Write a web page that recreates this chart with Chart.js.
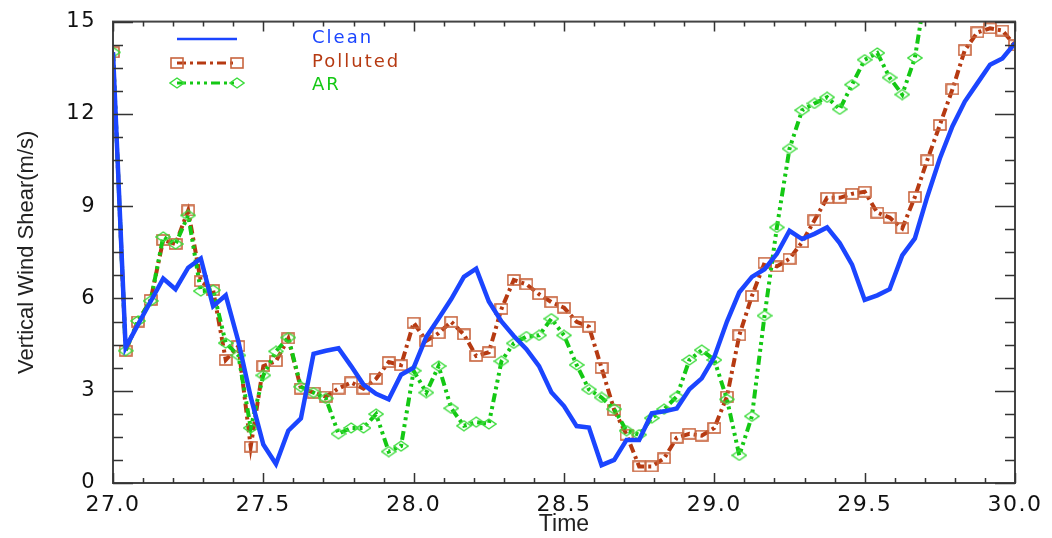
<!DOCTYPE html>
<html>
<head>
<meta charset="utf-8">
<script src="https://cdn.jsdelivr.net/npm/chart.js@4.4.1/dist/chart.umd.min.js"></script>
<style>
  html, body { margin: 0; padding: 0; background: #ffffff; }
  #wrap { width: 1052px; height: 538px; }
</style>
</head>
<body>
<div id="wrap"><canvas id="c" width="1052" height="538"></canvas></div>
<script>
// ---- data ----
const times = [
  27.000, 27.042, 27.083, 27.125, 27.167, 27.208, 27.250, 27.292, 27.333, 27.375, 27.417, 27.458,
  27.500, 27.542, 27.583, 27.625, 27.667, 27.708, 27.750, 27.792, 27.833, 27.875, 27.917, 27.958,
  28.000, 28.042, 28.083, 28.125, 28.167, 28.208, 28.250, 28.292, 28.333, 28.375, 28.417, 28.458,
  28.500, 28.542, 28.583, 28.625, 28.667, 28.708, 28.750, 28.792, 28.833, 28.875, 28.917, 28.958,
  29.000, 29.042, 29.083, 29.125, 29.167, 29.208, 29.250, 29.292, 29.333, 29.375, 29.417, 29.458,
  29.500, 29.542, 29.583, 29.625, 29.667, 29.708, 29.750, 29.792, 29.833, 29.875, 29.917, 29.958,
  30.000
];
const clean = [
  14.0, 4.4, 5.15, 5.9, 6.65, 6.3, 7.0, 7.3, 5.75, 6.1, 4.6, 2.8,
  1.25, 0.62, 1.7, 2.1, 4.2, 4.3, 4.38, 3.8, 3.2, 2.9, 2.72, 3.52,
  3.75, 4.75, 5.35, 5.98, 6.7, 6.97, 5.9, 5.25, 4.78, 4.35, 3.8, 2.95,
  2.5, 1.85, 1.8, 0.58, 0.75, 1.4, 1.4, 2.27, 2.33, 2.42, 3.05, 3.4,
  4.1, 5.25, 6.2, 6.7, 6.95, 7.45, 8.2, 7.93, 8.1, 8.31, 7.8, 7.1,
  5.95, 6.1, 6.3, 7.4, 7.95, 9.3, 10.55, 11.6, 12.4, 13.0, 13.6, 13.8,
  14.3
];
const polluted = [
  14.0, 4.3, 5.25, 5.95, 7.9, 7.77, 8.86, 6.56, 6.27, 4.0, 4.45, 1.18,
  3.8, 3.96, 4.7, 3.07, 2.94, 2.81, 3.07, 3.27, 3.07, 3.39, 3.93, 3.83,
  5.21, 4.62, 4.87, 5.24, 4.83, 4.13, 4.25, 5.66, 6.6, 6.46, 6.14, 5.88,
  5.7, 5.24, 5.08, 3.74, 2.37, 1.57, 0.54, 0.54, 0.8, 1.47, 1.6, 1.54,
  1.79, 2.81, 4.8, 6.08, 7.16, 7.04, 7.29, 7.83, 8.54, 9.27, 9.27, 9.4,
  9.47, 8.79, 8.63, 8.28, 9.3, 10.49, 11.64, 12.8, 14.07, 14.65, 14.78, 14.71,
  14.23
];
const ar = [
  14.0, 4.3, 5.27, 5.92, 8.0, 7.77, 8.7, 6.24, 6.27, 4.55, 4.15, 1.79,
  3.5, 4.28, 4.73, 3.13, 2.94, 2.75, 1.6, 1.79, 1.79, 2.24, 1.02, 1.2,
  3.65, 2.94, 3.8, 2.43, 1.86, 1.98, 1.92, 3.96, 4.54, 4.76, 4.8, 5.34,
  4.8, 3.84, 3.04, 2.78, 2.4, 1.7, 1.57, 2.11, 2.4, 2.81, 4.0, 4.32,
  4.0, 2.72, 0.9, 2.17, 5.44, 8.31, 10.87, 12.12, 12.34, 12.54, 12.15, 12.95,
  13.76, 13.98, 13.18, 12.63, 13.82, 16.3
];
const seriesNames = ['Clean', 'Polluted', 'AR'];
const xTickLabels = ['27.0', '27.5', '28.0', '28.5', '29.0', '29.5', '30.0'];
const yTickLabels = ['0', '3', '6', '9', '12', '15'];
const xTitle = 'Time';
const yTitle = 'Vertical Wind Shear(m/s)';

// ---- styles ----
const COL_CLEAN = '#1b45ff';
const COL_POLL = '#b63a12';
const COL_POLL_MK = '#c8643e';
const COL_AR = '#14c814';
const COL_AR_MK = '#3cdc3c';
const DASH_POLL = [9, 4, 3, 4];
const DASH_AR = [9, 4, 3, 4, 3, 4, 3, 4];

function makeSquare() {
  const c = document.createElement('canvas');
  c.width = 14; c.height = 12;
  const g = c.getContext('2d');
  g.strokeStyle = COL_POLL_MK; g.lineWidth = 1.6;
  g.strokeRect(1, 1, 12, 10);
  return c;
}
function makeDiamond() {
  const c = document.createElement('canvas');
  c.width = 16; c.height = 12;
  const g = c.getContext('2d');
  g.strokeStyle = COL_AR_MK; g.lineWidth = 1.4;
  g.beginPath();
  g.moveTo(8, 1); g.lineTo(15, 6); g.lineTo(8, 11); g.lineTo(1, 6); g.closePath();
  g.stroke();
  return c;
}
const squareImg = makeSquare();
const diamondImg = makeDiamond();

function pts(arr) { return arr.map((v, i) => ({ x: times[i], y: v })); }

const framePlugin = {
  id: 'frameTicks',
  beforeDraw(chart) { chart.ctx.letterSpacing = '0px'; },
  afterDatasetsDraw(chart) { chart.ctx.letterSpacing = '1.5px'; },
  afterDraw(chart) {
    const ctx = chart.ctx;
    const a = chart.chartArea;
    const xs = chart.scales.x, ys = chart.scales.y;
    ctx.save();
    ctx.letterSpacing = '0px';
    // frame
    ctx.strokeStyle = '#444';
    ctx.lineWidth = 2;
    ctx.strokeRect(a.left, a.top, a.right - a.left, a.bottom - a.top);
    // tick marks
    ctx.lineWidth = 1.5;
    ctx.strokeStyle = '#333';
    ctx.beginPath();
    for (let k = 0; k <= 30; k++) {
      const v = 27 + k * 0.1;
      const px = Math.round(xs.getPixelForValue(v)) + 0.5;
      const len = (k % 5 === 0) ? 10 : 5;
      ctx.moveTo(px, a.bottom); ctx.lineTo(px, a.bottom - len);
      ctx.moveTo(px, a.top); ctx.lineTo(px, a.top + len);
    }
    for (let k = 0; k <= 20; k++) {
      const v = k * 0.75;
      const py = Math.round(ys.getPixelForValue(v)) + 0.5;
      const len = (k % 4 === 0) ? 20 : 10;
      ctx.moveTo(a.left, py); ctx.lineTo(a.left + len, py);
      ctx.moveTo(a.right, py); ctx.lineTo(a.right - len, py);
    }
    ctx.stroke();

    // legend
    const lx1 = 177, lx2 = 237, tx = 312;
    const rows = [
      { y: 39, ty: 38, color: COL_CLEAN, dash: [], width: 2.5, img: null, name: seriesNames[0] },
      { y: 63, ty: 62, color: COL_POLL, dash: DASH_POLL, width: 3, img: squareImg, name: seriesNames[1] },
      { y: 83, ty: 85, color: COL_AR, dash: DASH_AR, width: 3, img: diamondImg, name: seriesNames[2] }
    ];
    rows.forEach(r => {
      ctx.save();
      ctx.strokeStyle = r.color;
      ctx.lineWidth = r.width;
      ctx.setLineDash(r.dash);
      ctx.beginPath();
      ctx.moveTo(lx1, r.y); ctx.lineTo(lx2, r.y);
      ctx.stroke();
      ctx.restore();
      if (r.img) {
        ctx.drawImage(r.img, lx1 - r.img.width / 2, r.y - r.img.height / 2);
        ctx.drawImage(r.img, lx2 - r.img.width / 2, r.y - r.img.height / 2);
      }
      ctx.letterSpacing = '2px';
      ctx.font = '18px "DejaVu Sans"';
      ctx.fillStyle = r.color;
      ctx.textAlign = 'left';
      ctx.textBaseline = 'middle';
      ctx.fillText(r.name, tx, r.ty);
    });
    ctx.restore();
    ctx.letterSpacing = '0px';
  }
};

new Chart(document.getElementById('c'), {
  type: 'line',
  data: {
    datasets: [
      {
        label: seriesNames[0], data: pts(clean), order: 0,
        borderColor: COL_CLEAN, borderWidth: 4.5, pointRadius: 0, tension: 0
      },
      {
        label: seriesNames[2], data: pts(ar), order: 1,
        borderColor: COL_AR, borderWidth: 4, borderDash: DASH_AR, tension: 0,
        pointStyle: diamondImg, pointRadius: 6, pointHoverRadius: 6
      },
      {
        label: seriesNames[1], data: pts(polluted), order: 2,
        borderColor: COL_POLL, borderWidth: 4, borderDash: DASH_POLL, tension: 0,
        pointStyle: squareImg, pointRadius: 6, pointHoverRadius: 6
      }
    ]
  },
  options: {
    responsive: false,
    animation: false,
    devicePixelRatio: 1,
    layout: { padding: { top: 14, right: 37, left: 0, bottom: 0 } },
    plugins: { legend: { display: false }, tooltip: { enabled: false } },
    scales: {
      x: {
        type: 'linear', position: 'bottom', min: 27, max: 30,
        grid: { display: false }, border: { display: false },
        ticks: {
          stepSize: 0.5, autoSkip: false, maxRotation: 0, padding: 1, z: 1,
          color: '#111', font: { family: 'DejaVu Sans', size: 22 },
          callback: (v, i) => xTickLabels[i]
        },
        title: {
          display: true, text: xTitle, color: '#222',
          font: { family: 'Liberation Sans', size: 23, lineHeight: 1 },
          padding: { top: 0, bottom: 1.5 }
        },
        afterFit: s => { s.height = 55; }
      },
      y: {
        type: 'linear', position: 'left', min: 0, max: 15,
        grid: { display: false }, border: { display: false },
        ticks: {
          stepSize: 3, autoSkip: false, padding: 9, z: 1,
          color: '#111', font: { family: 'DejaVu Sans', size: 21 },
          callback: (v, i) => yTickLabels[i]
        },
        title: {
          display: true, text: yTitle, color: '#222',
          font: { family: 'Liberation Sans', size: 22, lineHeight: 1 },
          padding: { top: 16, bottom: 0 }
        },
        afterFit: s => { s.width = 113; }
      }
    }
  },
  plugins: [framePlugin]
});
</script>
</body>
</html>
